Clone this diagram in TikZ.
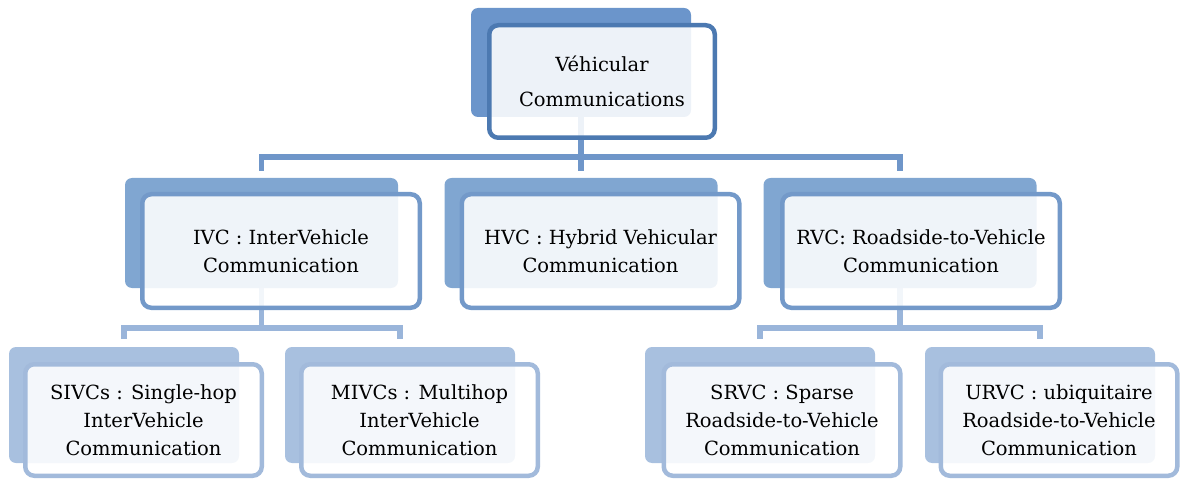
\documentclass[tikz,border=0pt]{standalone}
\usepackage{fontspec}
\setmainfont{DejaVu Serif}
\usetikzlibrary{backgrounds}

\definecolor{topblue}{HTML}{6B95CB}
\definecolor{topedge}{HTML}{4C79B1}
\definecolor{toplink}{HTML}{6F96C9}
\definecolor{midblue}{HTML}{80A6D1}
\definecolor{midedge}{HTML}{7399C9}
\definecolor{midlink}{HTML}{9AB5DA}
\definecolor{lowblue}{HTML}{A8C0DF}
\definecolor{lowedge}{HTML}{A2BADB}

\tikzset{
  back/.style={rectangle, rounded corners=7pt, inner sep=0pt},
  front/.style={rectangle, rounded corners=9pt, line width=4.5pt, fill=white, fill opacity=0.88, text opacity=1,
    align=center, inner sep=0pt, font=\fontsize{19.5}{28}\selectfont},
  link/.style={line width=5.5pt, shorten >=7pt},
}

\begin{document}
\begin{tikzpicture}[x=1pt, y=-1pt]
\useasboundingbox (0,0) rectangle (1183,481);
% top box
\node[back, fill=topblue, minimum width=220pt, minimum height=109pt] (topbk) at (581,62.5) {};
\node[front, draw=topedge, minimum width=225.5pt, minimum height=112.5pt] (top) at (602,81.5) {V\'ehicular\\[7pt]Communications};
% first level
\node[back, fill=midblue, minimum width=273pt, minimum height=110pt] (ivcbk) at (261.5,233) {};
\node[front, draw=midedge, minimum width=277.5pt, minimum height=113.5pt] (ivc) at (281,251) {IVC : InterVehicle\\Communication};
\node[back, fill=midblue, minimum width=273pt, minimum height=110pt] (hvcbk) at (581,233) {};
\node[front, draw=midedge, minimum width=277.5pt, minimum height=113.5pt] (hvc) at (600.5,251) {HVC : Hybrid Vehicular\\Communication};
\node[back, fill=midblue, minimum width=273pt, minimum height=110pt] (rvcbk) at (900,233) {};
\node[front, draw=midedge, minimum width=277.5pt, minimum height=113.5pt] (rvc) at (921,251) {RVC: Roadside-to-Vehicle\\Communication};
% second level
\node[back, fill=lowblue, minimum width=230pt, minimum height=116pt] (sivcbk) at (124,405) {};
\node[front, draw=lowedge, minimum width=236.5pt, minimum height=111.5pt] (sivc) at (143.5,420) {SIVCs : Single-hop\\InterVehicle\\Communication};
\node[back, fill=lowblue, minimum width=230pt, minimum height=116pt] (mivcbk) at (400,405) {};
\node[front, draw=lowedge, minimum width=236.5pt, minimum height=111.5pt] (mivc) at (419.5,420) {MIVCs : Multihop\\InterVehicle\\Communication};
\node[back, fill=lowblue, minimum width=230pt, minimum height=116pt] (srvcbk) at (760,405) {};
\node[front, draw=lowedge, minimum width=236.5pt, minimum height=111.5pt] (srvc) at (782,420) {SRVC : Sparse\\Roadside-to-Vehicle\\Communication};
\node[back, fill=lowblue, minimum width=230pt, minimum height=116pt] (urvcbk) at (1040,405) {};
\node[front, draw=lowedge, minimum width=236.5pt, minimum height=111.5pt] (urvc) at (1059,420) {URVC : ubiquitaire\\Roadside-to-Vehicle\\Communication};
% connectors
\coordinate (bar1) at (581,157);
\coordinate (bar2) at (261.5,328);
\coordinate (bar3) at (900,328);
\begin{pgfonlayer}{background}
\draw[link, toplink] (topbk.center) -- (bar1) -| (ivcbk.north);
\draw[link, toplink] (bar1) -| (rvcbk.north);
\draw[link, toplink] (bar1) -- (hvcbk.north);
\draw[link, midlink, shorten >=8pt] (ivcbk.center) -- (bar2) -| (sivcbk.north);
\draw[link, midlink, shorten >=8pt] (bar2) -| (mivcbk.north);
\draw[link, midlink, shorten >=8pt] (rvcbk.center) -- (bar3) -| (srvcbk.north);
\draw[link, midlink, shorten >=8pt] (bar3) -| (urvcbk.north);
\end{pgfonlayer}
\end{tikzpicture}
\end{document}
